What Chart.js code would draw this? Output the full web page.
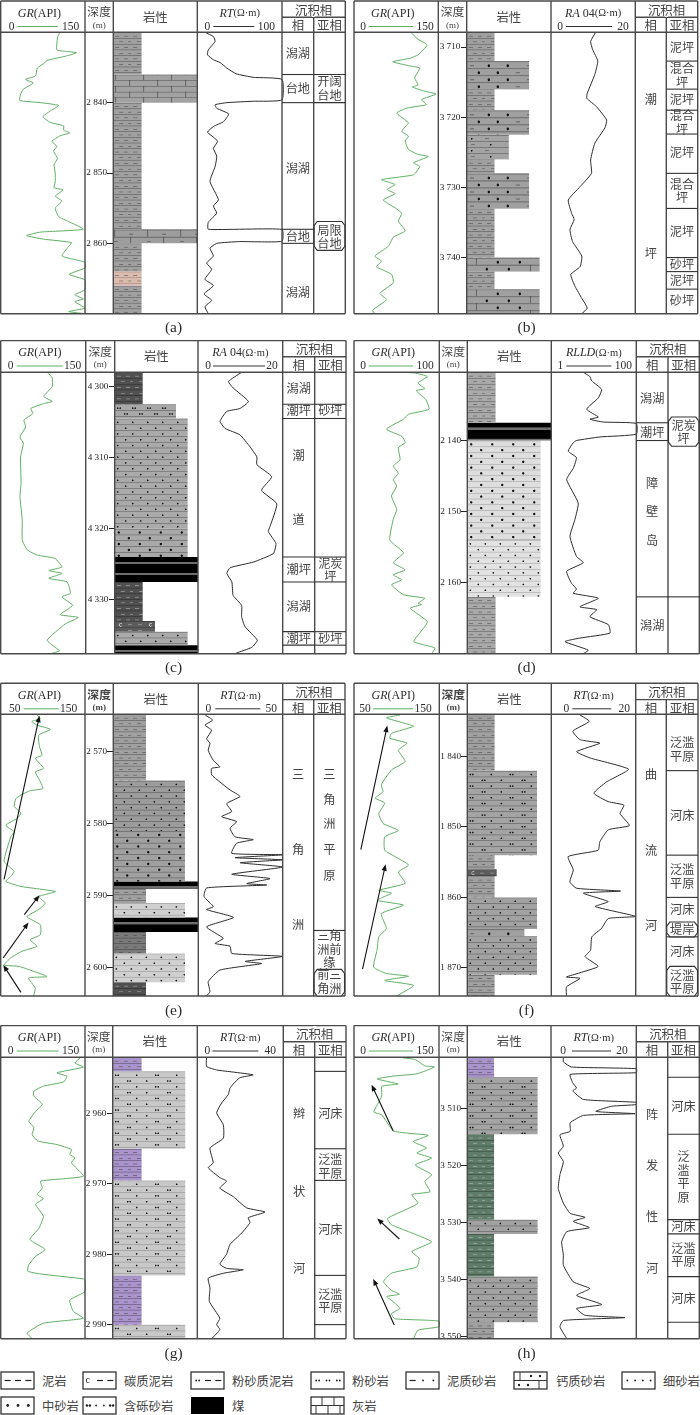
<!DOCTYPE html>
<html><head><meta charset="utf-8">
<script src="https://cdn.jsdelivr.net/npm/chart.js@4"></script>
<style>
html,body{margin:0;padding:0;background:#fff}
#page{position:relative;width:700px;height:1415px;overflow:hidden;background:#fff}
canvas{position:absolute}
.lg{position:absolute;font:12.3px "Noto Sans CJK SC",sans-serif;color:#444;white-space:nowrap;line-height:16px}
</style></head><body><div id="page"></div>
<script>
// ---------- (a) ----------
const aRange=[2830,2870], aTicks=[2840,2850,2860];
const aGRDepth=[2830,2830.8,2832.5,2832.7,2832.9,2833.4,2834,2834.3,2835.1,2836.2,2836.7,2837.2,2838.1,2838.9,2839.7,2840,2840.4,2841.2,2842,2842.8,2843.3,2843.9,2844.3,2844.7,2845.5,2846.2,2846.9,2847.9,2848.8,2850,2851.3,2852.1,2852.4,2853.3,2854,2855,2856.2,2856.9,2858,2858.4,2858.9,2859.4,2859.9,2860.7,2861.8,2862.2,2862.7,2863.5,2864.4,2865.2,2866.6,2867.3,2867.9,2868.3,2869.2,2869.7,2870];
const aGR=[105,101,100,115,135,115,82,79,65,62,44,58,40,35,34,71,103,88,75,88,112,112,123,106,91,100,94,101,95,97,97,95,111,97,109,97,103,121,147,71,46,76,126,118,109,126,150,150,122,150,150,132,147,132,150,121,150];
const aRTDepth=[2830,2830.6,2831.3,2832.5,2833.2,2833.9,2834.3,2835.1,2835.9,2836.4,2836.7,2839.6,2839.8,2840,2840.3,2840.8,2841.6,2842.7,2843.4,2844.2,2844.9,2845.5,2846.5,2847.6,2849.1,2851.2,2853.8,2854.7,2855.7,2857,2858,2858.02,2859.7,2859.75,2860,2860.7,2861.8,2862.8,2863.7,2865.1,2866,2867.2,2868.1,2869,2870];
const aRT=[9,19,21,13,12,19,27,35,46,66,100,100,66,35,21,23,37,31,19,12,19,24,19,23,21,15,25,19,23,13,13,100,100,50,23,15,19,11,17,9,19,8,17,9,13];
const aBedTops=[2830,2836,2840,2858,2860,2864,2866,2870];
const aBedKinds=['mud','lime','mud','limeMud','mud','mudPink','mud'];
const aBedWidths=[.337,1,.337,1,.337,.337,.337];
const aFacLines=[2836,2840,2858,2860], aFacText=['潟湖','台地','潟湖','台地','潟湖'], aFacAt=[2833,2838,2849.3,2859,2866.9];
const aSubLines=[2836,2840], aSubText=['开阔\n台地','局限\n台地'], aSubAt=[2838,2859.1], aSubHex=[[2856.9,2861]];
const aArrows=[];
// ---------- (b) ----------
const bRange=[3707.9,3748], bTicks=[3710,3720,3730,3740];
const bGRDepth=[3707.9,3708.9,3709.7,3711.1,3711.6,3712.1,3712.7,3713,3714.4,3715.4,3715.7,3716.3,3716.7,3717.5,3718.2,3718.7,3719.4,3720.4,3720.8,3722,3722.7,3723.4,3724.6,3725.3,3725.6,3726.5,3727,3728.2,3728.9,3729.6,3730.3,3730.9,3731.8,3732.9,3733.7,3734.8,3736.2,3737.1,3738.4,3739.8,3740.5,3741.3,3742.4,3743.6,3745.1,3746,3747.5,3748];
const bGR=[101,114,130,114,100,69,100,117,108,114,104,126,146,120,129,94,76,91,97,85,97,91,97,114,132,106,117,106,49,73,59,73,52,73,85,79,91,70,61,37,49,40,67,70,46,58,33,37];
const bRTDepth=[3707.9,3709.2,3710.4,3712,3713.9,3716.6,3717.3,3718.5,3720.4,3721.5,3723.7,3726.1,3728,3729.9,3731.8,3733.7,3734.6,3736,3737.7,3739.8,3741.3,3742.4,3744.1,3745.8,3747.2,3748];
const bRT=[10.6,9.4,9.9,11.1,10.4,8.6,8.5,10.8,13.2,12.8,10.4,9.4,9.6,6.9,4.1,4.9,5.5,4.5,5.1,7.3,6.9,4.7,5.7,7.3,8.6,7.3];
const bBedTops=[3707.9,3712,3716,3719,3722.5,3726,3728,3733,3740,3742,3744.5,3748];
const bBedKinds=['mud','muddySand','mud','muddySand','mudDots','mud','muddySand','mud','calcSand','mud','calcSand'];
const bBedWidths=[.33,.74,.33,.74,.5,.33,.74,.33,.865,.33,.865];
const bFacLines=[], bFacText=['潮','坪'], bFacAt=[3717.5,3739.4];
const bSubLines=[3712,3716,3719,3722.4,3728,3733,3740,3742,3744.5], bSubText=['泥坪','混合\n坪','泥坪','混合\n坪','泥坪','混合\n坪','泥坪','砂坪','泥坪','砂坪'], bSubAt=[3710,3714,3717.4,3720.7,3725,3730.5,3736.3,3741,3743.3,3746.1], bSubHex=[];
const bArrows=[];
// ---------- (c) ----------
const cRange=[4298,4337.6], cTicks=[4300,4310,4320,4330];
const cGRDepth=[4298,4298.8,4300,4301.4,4302.1,4302.4,4303.1,4303.8,4304.7,4305.7,4307.1,4308,4309.9,4313.6,4315.5,4318.8,4321.6,4323,4323.7,4324.2,4325.4,4325.9,4326.3,4327,4327.5,4329.1,4329.6,4330.8,4332.1,4332.5,4333.4,4335.7,4336.7,4337.2,4337.6];
const cGR=[82,91,91,76,91,76,53,57,41,44,34,40,35,36,34,38,38,47,64,96,108,85,108,85,117,123,108,127,105,137,114,82,96,104,88];
const cRTDepth=[4298,4299.3,4300.2,4302.1,4303.1,4303.5,4304.9,4305.9,4306.8,4308.5,4309.9,4311,4312.7,4314.6,4316.5,4319.7,4320.4,4322.1,4323.5,4324.7,4325.5,4326.3,4327.5,4329.4,4330.8,4332.4,4333.8,4335.7,4336.7,4337.5,4337.6];
const cRT=[10.3,7.2,8.3,11.9,9.9,6.8,5.2,6.4,9.9,12.3,13.9,13.9,17.4,15,18.6,17,16.6,18.4,17.8,13.1,7.6,6.8,8,8.3,10.3,10.3,11.1,14,12.7,9.1,8.7];
const cBedTops=[4298,4302.5,4304.5,4320,4324,4327.5,4333,4334.5,4336.4,4337.6];
const cBedKinds=['mudDark','silt','fine','medium','coal','mudDark','carb','fine','coal'];
const cBedWidths=[.336,.736,.876,.876,1,.336,.484,.876,1];
const cFacLines=[4302.5,4304.5,4324,4327.5,4334.5,4336.4], cFacText=['潟湖','潮坪','潮','道','潮坪','潟湖','潮坪'], cFacAt=[4300.2,4303.4,4309.7,4318.7,4325.8,4330.9,4335.5];
const cSubLines=[4302.5,4304.5,4324,4327.5,4334.5,4336.4], cSubText=['砂坪','泥炭\n坪','砂坪'], cSubAt=[4303.4,4325.8,4335.5], cSubHex=[];
const cArrows=[];
// ---------- (d) ----------
const dRange=[2130.4,2170], dTicks=[2140,2150,2160];
const dGRDepth=[2130.4,2130.5,2131,2131.9,2132.7,2133,2134.2,2135.6,2136.3,2137,2138.4,2139.4,2140.3,2141,2142.7,2143.6,2144.6,2145.5,2146.4,2147.8,2149.7,2151.1,2154,2155.8,2157.2,2158.2,2158.9,2159.6,2160.3,2161.7,2162.2,2162.9,2163.1,2163.6,2165.5,2167.1,2168.3,2168.8,2169.2,2170];
const dGR=[54,71,86,75,83,73,84,88,64,58,38,56,60,52,54,46,52,46,50,44,50,46,42,58,46,60,46,56,44,58,83,75,79,66,86,77,70,83,95,91];
const dRTDepth=[2130.4,2131,2131.6,2132.8,2134,2135.6,2136.7,2137,2137.4,2137.6,2139.1,2139.5,2140,2140.3,2141.5,2142.4,2143.9,2145.5,2148.8,2151.1,2153.5,2156.3,2157.2,2158.4,2160.1,2160.9,2161.5,2162.2,2163.4,2163.8,2164.8,2165.9,2167.1,2167.8,2168.3,2169.5,2170];
const dRT=[5.66,8.1,8.9,15.3,12.8,6.8,12.8,8.1,16.7,100,100,14,3.9,3.3,2.5,3.9,3.3,2.3,4.3,3.6,2.75,3.9,5.66,2.3,3,3.9,3.3,12.8,4.7,11.7,8.1,21.9,24,4.7,2.1,7.4,5.66];
const dBedTops=[2130.4,2137.5,2140,2154,2162,2170];
const dBedKinds=['mudLight','coal','mediumPale','finePale','mudLight'];
const dBedWidths=[.337,1,.873,.873,.337];
const dFacLines=[2137.5,2140,2162], dFacText=['潟湖','潮坪','障','壁','岛','潟湖'], dFacAt=[2134.1,2138.8,2146,2150,2154,2166];
const dSubLines=[2162], dSubText=['泥炭\n坪'], dSubAt=[2138.8], dSubHex=[[2136.7,2140.8]];
const dArrows=[];
// ---------- (e) ----------
const eRange=[2564.8,2603.9], eTicks=[2570,2580,2590,2600];
const eGRDepth=[2564.9,2565.4,2565.8,2566.3,2566.9,2567.7,2569.3,2570.5,2570.9,2572.3,2572.8,2573.7,2575.1,2575.4,2576,2576.5,2577.6,2578.5,2579.2,2580.2,2581.1,2581.8,2585.2,2586.6,2587.3,2588,2588.7,2589.4,2590.1,2591,2591.9,2592.9,2594,2595.4,2596.1,2597,2597.7,2598.6,2599.6,2599.8,2601.2,2601.4,2602.8,2603.9];
const eGR=[93,97,87,93,109,95,96,99,91,101,91,95,100,85,74,68,66,74,70,56,66,62,54,66,62,56,74,115,95,103,95,81,97,97,85,93,75,62,54,72,105,83,91,89];
const eRTDepth=[2564.9,2565.6,2566.3,2567,2568.2,2568.8,2569.8,2571.2,2572.1,2572.3,2573.2,2574.2,2575.3,2576.2,2577.2,2578.3,2579,2579.7,2580.6,2581.8,2582.2,2582.7,2584.1,2584.3,2584.7,2585,2585.4,2586,2587,2587.6,2588.3,2588.5,2588.9,2590.1,2591.5,2591.9,2593,2594.3,2595.9,2596.6,2597,2598,2598.4,2599.1,2599.4,2600.3,2601.9,2603.3,2603.9];
const eRT=[4,8.5,4,7.9,4.9,6.9,5.9,8.9,12.8,7.9,7.9,12.8,18.8,24.7,16.8,19.8,13.8,22.7,18.8,21.7,32.6,22.7,19.8,50,21.7,50,24.7,50,19.8,42.5,28.7,40.5,4.9,3.4,8.9,4.9,20.8,4.9,14.8,9.9,18.8,19.8,50,27.7,37.5,12.8,5.9,6.9,4.9];
const eBedTops=[2564.8,2574,2581,2588,2589,2591,2593,2595,2598,2602,2603.9];
const eBedKinds=['mud','fineDark','mediumDark','coal','mud','fineLight','coal','mudMid','fineLight','mudDark'];
const eBedWidths=[.385,.843,.843,1,.385,.843,1,.385,.843,.385];
const eFacLines=[], eFacText=['三','角','洲'], eFacAt=[2573.1,2583.5,2594];
const eSubLines=[2594.8], eSubText=['三','角','洲','平','原','三角\n洲前\n缘','前三\n角洲'], eSubAt=[2573.1,2576.6,2580,2583.5,2587.1,2597.4,2601.9], eSubHex=[[2600.2,2605]];
const eArrows=[[54,2587.7,96,2565],[78,2592.6,96,2589.9],[53,2598.6,83,2593.7],[74,2603.4,53,2599.6]];
// ---------- (f) ----------
const fRange=[1834,1874], fTicks=[1840,1850,1860,1870];
const fGRDepth=[1834.1,1834.5,1835.3,1835.7,1836.7,1837.4,1838.1,1839.1,1840.7,1841.9,1844,1845,1845.9,1846.6,1848.1,1849.5,1850.5,1851.4,1853.3,1854.2,1855.4,1856.4,1858,1859,1859.4,1860.4,1861.1,1862.3,1864.4,1865.6,1867.5,1869.9,1870.8,1871.2,1871.8,1872.5,1874];
const fGR=[104,88,110,120,94,92,112,102,110,94,82,84,75,86,79,84,102,86,86,98,114,102,110,79,94,77,108,82,88,79,77,73,88,114,86,120,100];
const fRTDepth=[1834.1,1835,1836.4,1837.6,1838.1,1839.3,1840.2,1841.8,1843.6,1845.2,1846.4,1846.9,1848.1,1849.8,1850.4,1852.1,1853.3,1854.2,1856.1,1857.8,1858.7,1859.1,1859.4,1860.6,1861.3,1862.7,1863,1864.4,1865.6,1867.5,1868.4,1869.8,1870.7,1871.3,1871.5,1872.7,1874];
const fRT=[6.8,9,5.1,6.8,11.5,6,9.2,18.3,13.1,10.1,13.5,17.2,16.3,18.5,13.5,11.5,11.1,4,5.2,4.4,6,16.4,7.6,13.5,10.4,20,13.5,11.9,9.6,9.3,8,11.1,6.8,3.6,6.8,3.6,3.6];
const fBedTops=[1834,1842,1854,1856,1857,1860,1864.5,1865.5,1871,1874];
const fBedKinds=['mud','pebble','mud','carb','mud','medium2','muddySand','medium2','mud'];
const fBedWidths=[.325,.83,.325,.35,.325,.83,.68,.83,.325];
const fFacLines=[], fFacText=['曲','流','河'], fFacAt=[1842.5,1853.3,1864];
const fSubLines=[1842,1854,1860,1865.6], fSubText=['泛滥\n平原','河床','泛滥\n平原','河床','堤岸','河床','泛滥\n平原'], fSubAt=[1839,1848.4,1857,1861.7,1864.6,1867.7,1872], fSubHex=[[1863.5,1865.6],[1869.8,1875]];
const fArrows=[[58,1853.2,89,1835.6],[60,1870.2,87,1855.3]];
// ---------- (g) ----------
const gRange=[2952,2992], gTicks=[2960,2970,2980,2990];
const gGRDepth=[2952,2952.1,2952.8,2953.4,2954.2,2954.7,2955.5,2956.1,2956.8,2957.5,2958.7,2959.7,2961.1,2962,2963,2963.9,2964.4,2965.1,2965.8,2966.3,2967,2968.9,2969.6,2970.6,2971.5,2972.1,2972.9,2974.6,2976.3,2977.9,2979.3,2980.3,2981.5,2982.4,2982.8,2983.5,2983.7,2985.3,2986.5,2988.1,2989.1,2989.8,2991.2,2992];
const gGR=[132,141,132,147,100,118,112,76,59,59,74,62,50,59,56,66,100,126,123,132,126,147,71,74,65,76,62,76,68,52,79,62,50,48,71,147,150,150,123,129,147,76,47,56];
const gRTDepth=[2952,2953.3,2953.8,2954.1,2954.5,2954.9,2955.8,2956.4,2957.3,2958.5,2959.9,2961.6,2963.5,2964.9,2967,2967.7,2969.1,2969.6,2970.6,2971.8,2973.4,2974,2974.8,2975.5,2977,2978.6,2980,2981.4,2982,2982.2,2982.7,2983.4,2984.8,2986.7,2989.1,2990,2990.7,2992];
const gRT=[4.3,4.3,9,16.7,26,19.8,16.7,15.2,14.4,11.3,9,12.1,12.1,5.9,7.4,5.1,10.5,13.6,10.5,16.7,22.9,31.5,23.7,24.5,20.6,15.2,13.6,10.5,13.6,21.4,12.1,5.1,5.9,5.6,10.5,9,10.5,6.7];
const gBedTops=[2952,2954,2965,2969.5,2983,2990,2992];
const gBedKinds=['mudPurple','pebbleLight','mudPurple','pebbleLight','mudPurple','pebbleLight'];
const gBedWidths=[.342,.858,.342,.858,.342,.858];
const gFacLines=[], gFacText=['辫','状','河'], gFacAt=[2960,2971,2982];
const gSubLines=[2954,2965,2969.5,2983,2990], gSubText=['河床','泛滥\n平原','河床','泛滥\n平原'], gSubAt=[2959.9,2967.5,2976.4,2986.6], gSubHex=[];
const gArrows=[];
// ---------- (h) ----------
const hRange=[3501,3550.4], hTicks=[3510,3520,3530,3540,3550];
const hGRDepth=[3501.1,3501.4,3502.5,3502.7,3503.9,3504.3,3504.8,3505.7,3506.1,3507.8,3510.6,3511.1,3513.9,3514.3,3514.7,3515.8,3516.9,3517.8,3518.7,3519.9,3521.6,3522.8,3524.6,3525.1,3526.6,3527.8,3529.3,3530.4,3531.6,3533.4,3535.1,3536.3,3537.8,3538.9,3540.4,3541.9,3542.6,3543,3543.9,3545.1,3546,3546.9,3547.3,3548.3,3548.9,3550.4];
const hGR=[86,108,125,142,111,69,41,78,49,49,35,49,69,93,131,105,128,111,137,108,137,125,134,102,113,90,59,66,96,137,102,115,111,66,52,66,80,58,69,81,66,72,150,150,113,105];
const hRTDepth=[3501,3501.8,3502.7,3503,3503.7,3504,3505.5,3506.4,3506.9,3508.4,3508.9,3509.3,3509.6,3510.5,3510.9,3511.2,3512.5,3514,3514.6,3516.6,3517.8,3519.3,3521.6,3524,3526.6,3528.4,3529.1,3529.8,3530.9,3531.6,3533.4,3535.7,3537.5,3540.4,3541.6,3542.8,3544.4,3545.1,3546.3,3546.7,3547.2,3548.3,3550.4];
const hRT=[2.9,2.9,4.8,20,20,4.5,5.1,6,5.1,7.6,20,20,14.2,10.5,19.7,7.6,4.5,4.5,2.1,2.9,1.7,2.9,2.1,1.7,2.9,4.5,8,5.2,9,3.7,2.5,2.9,2.9,5.2,9.1,6,11.9,6,8,17.3,2.9,2.1,3.7];
const hBedTops=[3501,3504.5,3514.5,3529.5,3532,3539.5,3547.5,3550.4];
const hBedKinds=['mudPurple','pebble','mudGreen','medium2','mudGreen','medium2','mud'];
const hBedWidths=[.32,.84,.32,.84,.32,.84,.32];
const hFacLines=[], hFacText=['阵','发','性','河'], hFacAt=[3511,3520,3529,3538];
const hSubLines=[3504.5,3514.5,3529.5,3532,3539.5,3547.5], hSubText=['河床','泛\n滥\n平\n原','河床','泛滥\n平原','河床'], hSubAt=[3509.6,3522,3530.7,3535.7,3543.3], hSubHex=[];
const hArrows=[[69,3513.9,31,3505.8],[80,3532.9,41,3529.3],[71,3548,34,3539.9]];
// ---------- legend ----------
const legendNames=['泥岩','碳质泥岩','粉砂质泥岩','粉砂岩','泥质砂岩','钙质砂岩','细砂岩','中砂岩','含砾砂岩','煤','灰岩'];

// ---------- layout & style (not data) ----------
const panels=[
 {id:'a',ox:0,oy:0,h:340,cols:[.7,85,113.3,197.3,282,313.7,345.3],top:1,hdr:32.3,bot:313.7,cap:328,gr:[0,150],rt:[0,100],rtName:[['RT',1]],grH:[11,17,57,70],rtH:[10,16,57,69],d:[aRange,aTicks,aGRDepth,aGR,aRTDepth,aRT,aBedTops,aBedKinds,aBedWidths,aFacLines,aFacText,aFacAt,aSubLines,aSubText,aSubAt,aSubHex,aArrows]},
 {id:'b',ox:350,oy:0,h:340,cols:[354,438.3,466.7,551,635.3,666.3,697.7],top:1,hdr:32.3,bot:313.7,cap:328,gr:[0,150],rt:[0,20],rtName:[['RA',1],[' 04',0]],grH:[9,15,59,71],rtH:[9,15,61,72],d:[bRange,bTicks,bGRDepth,bGR,bRTDepth,bRT,bBedTops,bBedKinds,bBedWidths,bFacLines,bFacText,bFacAt,bSubLines,bSubText,bSubAt,bSubHex,bArrows]},
 {id:'c',ox:0,oy:340,h:340,cols:[.7,85.7,114.7,198,282.7,314.7,346],top:340.5,hdr:372.3,bot:653.7,cap:668,gr:[0,150],rt:[0,20],rtName:[['RA',1],[' 04',0]],grH:[10,16,62,72],rtH:[10,15,67,74],d:[cRange,cTicks,cGRDepth,cGR,cRTDepth,cRT,cBedTops,cBedKinds,cBedWidths,cFacLines,cFacText,cFacAt,cSubLines,cSubText,cSubAt,cSubHex,cArrows]},
 {id:'d',ox:350,oy:340,h:340,cols:[354,439.3,467.3,551.3,636.3,668,699.3],top:340.5,hdr:372.3,bot:653.7,cap:668,gr:[0,100],rt:[1,100],log:true,rtName:[['RLLD',1]],grH:[9,15,59,71],rtH:[9,15,60,72],d:[dRange,dTicks,dGRDepth,dGR,dRTDepth,dRT,dBedTops,dBedKinds,dBedWidths,dFacLines,dFacText,dFacAt,dSubLines,dSubText,dSubAt,dSubHex,dArrows]},
 {id:'e',ox:0,oy:680,h:345,cols:[.7,85,113.3,198.3,282.7,313.7,345],top:683.3,hdr:714.3,bot:996,cap:1011,bold:true,gr:[50,150],rt:[0,50],rtName:[['RT',1]],grH:[14,23,58,68],rtH:[10,17,62,73],d:[eRange,eTicks,eGRDepth,eGR,eRTDepth,eRT,eBedTops,eBedKinds,eBedWidths,eFacLines,eFacText,eFacAt,eSubLines,eSubText,eSubAt,eSubHex,eArrows]},
 {id:'f',ox:350,oy:680,h:345,cols:[354,439.3,467.3,551.3,635.7,666.3,698],top:683.3,hdr:714.3,bot:996,cap:1011,bold:true,gr:[50,150],rt:[0,20],rtName:[['RT',1]],grH:[11,19,59,69],rtH:[15,21,60,73],d:[fRange,fTicks,fGRDepth,fGR,fRTDepth,fRT,fBedTops,fBedKinds,fBedWidths,fFacLines,fFacText,fFacAt,fSubLines,fSubText,fSubAt,fSubHex,fArrows]},
 {id:'g',ox:0,oy:1025,h:345,cols:[.7,85,112.7,197.3,283.3,314.7,346],top:1025.5,hdr:1057.3,bot:1338.7,cap:1354,gr:[0,150],rt:[0,40],rtName:[['RT',1]],grH:[10,16,58,70],rtH:[10,15,61,73],d:[gRange,gTicks,gGRDepth,gGR,gRTDepth,gRT,gBedTops,gBedKinds,gBedWidths,gFacLines,gFacText,gFacAt,gSubLines,gSubText,gSubAt,gSubHex,gArrows]},
 {id:'h',ox:350,oy:1025,h:345,cols:[354,439,467.3,551,636.3,667.7,699.3],top:1025.5,hdr:1057.3,bot:1338.7,cap:1354,gr:[0,150],rt:[0,20],rtName:[['RT',1]],grH:[9,15,59,71],rtH:[12,21,60,71],d:[hRange,hTicks,hGRDepth,hGR,hRTDepth,hRT,hBedTops,hBedKinds,hBedWidths,hFacLines,hFacText,hFacAt,hSubLines,hSubText,hSubAt,hSubHex,hArrows]}
];
const SERIF='"Liberation Serif",serif', CJK='"Noto Sans CJK SC",sans-serif';
const INK='#444444', GREEN='#5fae64', LINE='#4a4a4a';
const BASE={
 mud:{W:18,R:5.7,rows:[[['-',2],['-',11]],[['-',6],['-',15]]]},
 lime:{W:28,R:5.7,rows:[[['|',2]],[['|',16]]]},
 limeMud:{W:33,R:7.3,rows:[[['|',1],['-',16]],[['-',0.5],['|',17]]]},
 carb:{W:30,R:5.7,rows:[[['c',6],['-',13],['-',23]],[['-',13],['-',23]]]},
 silt:{W:15,R:5.8,rows:[[['p',3]],[['p',10]]]},
 fine:{W:15,R:5.8,rows:[[['s',3]],[['s',11]]]},
 medium:{W:21,R:5.8,rows:[[['o',4]],[['o',14]]]},
 pebble:{W:40,R:5.8,rows:[[['p',3],['s',24]],[['s',34],['p',15]]]},
 muddySand:{W:57,R:7,rows:[[['-',3],['o',22],['o',41]],[['o',12],['o',31],['-',49]]]},
 mudDots:{W:38,R:6,rows:[[['s',5],['-',18]],[['-',4],['s',24]]]},
 calcSand:{W:66,R:7,rows:[[['|',9],['o',31],['o',53]],[['o',20],['o',42],['|',63]]]},
 coal:{W:8,R:5.6,coal:true,rows:[[],[]]}
};
const KIND={
 mud:['mud','#a0a0a0'],mudLight:['mud','#a9a9a9'],mudPink:['mud','#dcbcae'],mudPurple:['mud','#a994cb'],mudGreen:['mud','#5f7b69'],
 mudDark:['mud','#505050'],mudMid:['mud','#7a7a7a'],lime:['lime','#a2a2a2'],limeMud:['limeMud','#9e9e9e'],carb:['carb','#5c5c5c'],
 silt:['silt','#a8a8a8'],fine:['fine','#aaaaaa'],medium:['medium','#a9a9a9'],medium2:['fine','#a2a2a2'],fineDark:['fine','#9c9c9c'],mediumDark:['medium','#a0a0a0'],
 fineLight:['fine','#d0d0d0'],mediumPale:['medium','#dedede'],finePale:['fine','#e2e2e2'],pebble:['pebble','#a4a4a4'],pebbleLight:['pebble','#c8c8c8'],
 muddySand:['muddySand','#a0a0a0'],mudDots:['mudDots','#a4a4a4'],calcSand:['calcSand','#a0a0a0'],coal:['coal','#000']
};
function makePattern(key){
 const [b,bg]=KIND[key], spec=BASE[b];
 const c=document.createElement('canvas'); c.width=spec.W*2; c.height=24;
 const x=c.getContext('2d');
 x.fillStyle=bg; x.fillRect(0,0,c.width,24);
 if(spec.coal){ x.fillStyle='#6e6e6e'; x.fillRect(0,10,c.width,5); }
 else {
  const lum=parseInt(bg.slice(1,3),16), dark=lum<110;
  x.fillStyle=lum>190?'rgba(0,0,0,.16)':'rgba(0,0,0,.26)';
  x.fillRect(0,0,c.width,2); x.fillRect(0,12,c.width,2);
  spec.rows.forEach((row,i)=>{
   const y=i*12+8;
   row.forEach(([t,px])=>{
    const X=px*2;
    if(t==='-'){ x.fillStyle=dark?'rgba(210,210,210,.45)':'rgba(50,50,50,.45)'; x.fillRect(X,y-1,8,2); }
    else if(t==='|'){ x.fillStyle='rgba(50,50,50,.55)'; x.fillRect(X,i*12,2,12); }
    else if(t==='c'){ x.strokeStyle='#ccc'; x.lineWidth=1.4; x.beginPath(); x.arc(X,y,3,.6,5.6); x.stroke(); }
    else { x.fillStyle='#111'; const r=t==='o'?2.4:1.7;
      const dots=t==='p'?[X,X+5]:[X];
      dots.forEach(d=>{x.beginPath();x.arc(d,y,r,0,7);x.fill();}); }
   });
  });
 }
 const pat=x.createPattern(c,'repeat');
 pat._sy=(2*spec.R)/24;
 return pat;
}
function extend(lo,hi,pL,pR,aL,aR,log){
 if(log){const a=Math.log10(lo),b=Math.log10(hi),s=(b-a)/(pR-pL);return {min:10**(a-(pL-aL)*s),max:10**(b+(aR-pR)*s)};}
 const s=(hi-lo)/(pR-pL);return {min:lo-(pL-aL)*s,max:hi+(aR-pR)*s};
}
const zip=(ds,vs)=>ds.map((d,i)=>({x:vs[i],y:d}));
function rich(ctx,parts,cx,y){
 let w=0; parts.forEach(p=>{ctx.font=p[1];w+=ctx.measureText(p[0]).width;});
 let x=cx-w/2; ctx.textAlign='left';
 parts.forEach(p=>{ctx.font=p[1];ctx.fillText(p[0],x,y);x+=ctx.measureText(p[0]).width;});
}
function fmtDepth(v){const s=String(v);return s[0]+' '+s.slice(1);}
const page=document.getElementById('page');

panels.forEach(P=>{
 const [range,ticks,grD,grV,rtD,rtV,bedT,bedK,bedW,facL,facT,facA,subL,subT,subA,subH,arrows]=P.d;
 const cv=document.createElement('canvas');
 cv.width=350;cv.height=P.h;cv.style.left=P.ox+'px';cv.style.top=P.oy+'px';cv.style.width='350px';cv.style.height=P.h+'px';
 page.appendChild(cv);
 const C=P.cols.map(v=>v-P.ox), hdrY=P.hdr-P.oy, botY=P.bot-P.oy, topY=P.top-P.oy;
 const aL=C[0],aR=C[6];
 const curves=[
  {data:zip(grD,grV),xAxisID:'gr',borderColor:GREEN},
  {data:zip(rtD,rtV),xAxisID:'rt',borderColor:'#2b2b2b'}
 ].map(o=>Object.assign(o,{yAxisID:'y',showLine:true,pointRadius:0,borderWidth:1,tension:.15,fill:false}));
 const patterns=[];
 const beds=bedK.map((k,i)=>{
  const pat=makePattern(k); patterns.push([pat,bedT[i]]);
  const w=bedW[i],t=bedT[i],b=bedT[i+1];
  return {data:[{x:0,y:t},{x:w,y:t},{x:w,y:b},{x:0,y:b},{x:0,y:t}],xAxisID:'lith',yAxisID:'y',showLine:true,pointRadius:0,borderWidth:0,borderColor:'rgba(0,0,0,0)',backgroundColor:pat,fill:'shape',tension:0};
 });
 const lithW=C[3]-C[2];
 const decor={id:'decor'+P.id,
  beforeDatasetsDraw(ch){
   const y=ch.scales.y;
   patterns.forEach(([p,t])=>p.setTransform(new DOMMatrix([.5,0,0,p._sy,C[2],y.getPixelForValue(t)])));
  },
  afterDatasetsDraw(ch){
   const c=ch.ctx,y=ch.scales.y,sg=ch.scales.gr;
   c.save();
   c.strokeStyle='#111';c.fillStyle='#111';c.lineWidth=1.1;
   arrows.forEach(([v0,d0,v1,d1])=>{
    const x0=sg.getPixelForValue(v0),y0=y.getPixelForValue(d0),x1=sg.getPixelForValue(v1),y1=y.getPixelForValue(d1);
    const a=Math.atan2(y1-y0,x1-x0),L=6.5,Wd=2.6;
    c.beginPath();c.moveTo(x0,y0);c.lineTo(x1-L*.7*Math.cos(a),y1-L*.7*Math.sin(a));c.stroke();
    c.beginPath();c.moveTo(x1,y1);c.lineTo(x1-L*Math.cos(a)-Wd*Math.sin(a),y1-L*Math.sin(a)+Wd*Math.cos(a));c.lineTo(x1-L*Math.cos(a)+Wd*Math.sin(a),y1-L*Math.sin(a)-Wd*Math.cos(a));c.closePath();c.fill();
   });
   c.strokeStyle=LINE;c.lineWidth=1.4;
   const vl=(x,a,b)=>{c.beginPath();c.moveTo(x,a);c.lineTo(x,b);c.stroke();};
   const hl=(a,b,yy)=>{c.beginPath();c.moveTo(a,yy);c.lineTo(b,yy);c.stroke();};
   C.forEach(x=>vl(x,topY,botY));
   hl(C[0],C[6],topY);hl(C[0],C[6],hdrY);hl(C[0],C[6],botY);
   hl(C[4],C[6],topY+16.3);
   c.clearRect(C[5]-1.5,topY+.8,3,15);
   c.lineWidth=1.1;c.strokeStyle='#333';
   facL.forEach(d=>hl(C[4],C[5],y.getPixelForValue(d)));
   subL.forEach(d=>hl(C[5],C[6],y.getPixelForValue(d)));
   subH.forEach(([t,b])=>{
    const T=y.getPixelForValue(t),B=Math.min(y.getPixelForValue(b),botY),L=C[5]+.5,R=C[6]-.5;
    c.fillStyle='#fff';c.beginPath();
    c.moveTo(L+3,T);c.lineTo(R-3,T);c.lineTo(R,T+4);c.lineTo(R,B-4);c.lineTo(R-3,B);c.lineTo(L+3,B);c.lineTo(L,B-4);c.lineTo(L,T+4);c.closePath();
    c.fill();c.stroke();
   });
   c.fillStyle=INK;c.textBaseline='middle';
   const para=(txt,cx,at)=>{
    const ls=txt.split('\n'),yy=y.getPixelForValue(at);
    c.font='12.2px '+CJK;c.textAlign='center';
    ls.forEach((l,i)=>c.fillText(l,cx,yy+(i-(ls.length-1)/2)*13.6));
   };
   facT.forEach((t,i)=>para(t,(C[4]+C[5])/2,facA[i]));
   subT.forEach((t,i)=>para(t,(C[5]+C[6])/2,subA[i]));
   const sr=(px,it)=>(it?'italic ':'')+px+'px '+SERIF;
   const hy=topY+12.6,ry=topY+25.5;
   c.fillStyle='#2e2e2e';
   rich(c,[['GR',sr(12,1)],['(API)',sr(12,0)]],(C[0]+C[1])/2-3.4,hy);
   rich(c,P.rtName.map(p=>[p[0],sr(12,p[1])]).concat([['(Ω·m)',sr(10.5,0)]]),(C[3]+C[4])/2,hy);
   c.font=sr(11.5,0);c.textAlign='center';
   const g=P.grH,r=P.rtH;
   c.fillText(String(P.gr[0]),C[0]+g[0],ry);c.fillText(String(P.gr[1]),C[0]+g[3],ry);
   c.fillText(String(P.rt[0]),C[3]+r[0],ry);c.fillText(String(P.rt[1]),C[3]+r[3],ry);
   c.lineWidth=1;c.strokeStyle=GREEN;hl(C[0]+g[1],C[0]+g[2],ry);
   c.strokeStyle='#333';hl(C[3]+r[1],C[3]+r[2],ry);
   c.fillStyle=INK;
   c.font=(P.bold?'bold ':'')+'11.8px '+CJK;c.fillText('深度',(C[1]+C[2])/2,topY+11);
   c.font=(P.bold?'bold ':'')+'9px '+SERIF;c.fillText('(m)',(C[1]+C[2])/2,topY+24.5);
   c.font='12.4px '+CJK;c.fillText('岩性',(C[2]+C[3])/2,topY+16);
   c.fillText('沉积相',(C[4]+C[6])/2,topY+8.8);
   c.fillText('相',(C[4]+C[5])/2,topY+24.6);c.fillText('亚相',(C[5]+C[6])/2,topY+24.6);
   c.fillStyle='#2e2e2e';
   c.font=sr(15.5,0);c.fillText('('+P.id+')',(P.id.charCodeAt(0)%2?173.5:176.5),P.cap-P.oy);
   c.restore();
  }
 };
 const depthAxis={type:'linear',axis:'y',reverse:true,min:range[0],max:range[1],bounds:'data',
  afterBuildTicks:s=>{s.ticks=ticks.map(v=>({value:v}));},border:{display:false}};
 new Chart(cv,{type:'scatter',plugins:[decor],
  data:{datasets:curves.concat(beds)},
  options:{responsive:false,animation:false,events:[],devicePixelRatio:1,
   layout:{padding:{left:aL,right:350-aR,top:hdrY,bottom:P.h-botY}},
   plugins:{legend:{display:false},tooltip:{enabled:false}},
   scales:{
    gr:Object.assign({type:'linear',axis:'x',display:false,bounds:'data',position:'bottom'},extend(P.gr[0],P.gr[1],C[0],C[1],aL,aR)),
    rt:Object.assign({type:P.log?'logarithmic':'linear',axis:'x',display:false,bounds:'data',position:'bottom'},extend(P.rt[0],P.rt[1],C[3],C[4],aL,aR,P.log)),
    lith:Object.assign({type:'linear',axis:'x',display:false,bounds:'data',position:'bottom'},extend(0,1,C[2],C[3],aL,aR)),
    y:Object.assign({},depthAxis,{position:{lith:-6.3/lithW},
       grid:{display:false},
       ticks:{autoSkip:false,maxRotation:0,padding:0,color:'#222',font:{family:SERIF,size:9.2},callback:v=>fmtDepth(v)}}),
    yMarks:Object.assign({},depthAxis,{position:{lith:0},
       grid:{drawOnChartArea:false,drawTicks:true,tickLength:6,color:'#222',lineWidth:1},
       ticks:{display:false}})
   }}});
});

const SW=[
 {x:1,y:1371.5,tx:42,m:['-','-','-']},{x:83,y:1371.5,tx:124,m:['c','-','-']},{x:191,y:1371.5,tx:232,m:['p','-','-']},
 {x:311,y:1371.5,tx:352,m:['p','p','p']},{x:406,y:1371.5,tx:447,m:['-','s','s']},{x:514,y:1371.5,tx:556,brick:'dots'},
 {x:622,y:1371.5,tx:663,m:['s','s','s','s']},
 {x:1,y:1396.5,tx:42,m:['o','o','o']},{x:83,y:1396.5,tx:124,m:['P','s','s','P']},{x:191,y:1396.5,tx:232,fillB:true},{x:311,y:1396.5,tx:352,brick:'lime'}
];
SW.forEach((s,i)=>{
 const cv=document.createElement('canvas');cv.width=36;cv.height=20;
 cv.style.left=(s.x-1)+'px';cv.style.top=(s.y-1)+'px';page.appendChild(cv);
 const c=cv.getContext('2d');
 c.strokeStyle='#333';c.fillStyle='#222';c.lineWidth=1.3;
 if(s.fillB){c.fillStyle='#000';c.fillRect(1,1,33,17);}
 else c.strokeRect(1,1,33,17);
 if(s.m){
  const n=s.m.length,step=31/n;
  s.m.forEach((t,k)=>{
   const x=2.5+step*(k+.5),y=9.5;
   if(t==='-')c.fillRect(x-3,y-.6,6,1.2);
   else if(t==='c'){c.font='10px '+SERIF;c.textAlign='center';c.textBaseline='middle';c.fillText('c',x-2,y);}
   else{const r=t==='o'?1.4:.9,ds=(t==='p'||t==='P')?[x-1.5,x+1.5]:[x];ds.forEach(d=>{c.beginPath();c.arc(d,y,t==='P'?1.2:r,0,7);c.fill();});}
  });
 }
 if(s.brick){
  c.lineWidth=1;c.beginPath();
  c.moveTo(1,9.5);c.lineTo(34,9.5);
  (s.brick==='lime'?[[12,1,9.5],[24,1,9.5],[6,9.5,18],[18,9.5,18],[30,9.5,18]]:[[7,1,9.5],[26,9.5,18]]).forEach(v=>{c.moveTo(v[0],v[1]);c.lineTo(v[0],v[2]);});
  c.stroke();
  if(s.brick==='dots')[[18,5],[27,5],[6,14],[15,14]].forEach(d=>{c.beginPath();c.arc(d[0],d[1],1.2,0,7);c.fill();});
 }
 const t=document.createElement('div');t.className='lg';t.textContent=legendNames[i];
 t.style.left=s.tx+'px';t.style.top=(s.y+1)+'px';page.appendChild(t);
});
</script></body></html>
